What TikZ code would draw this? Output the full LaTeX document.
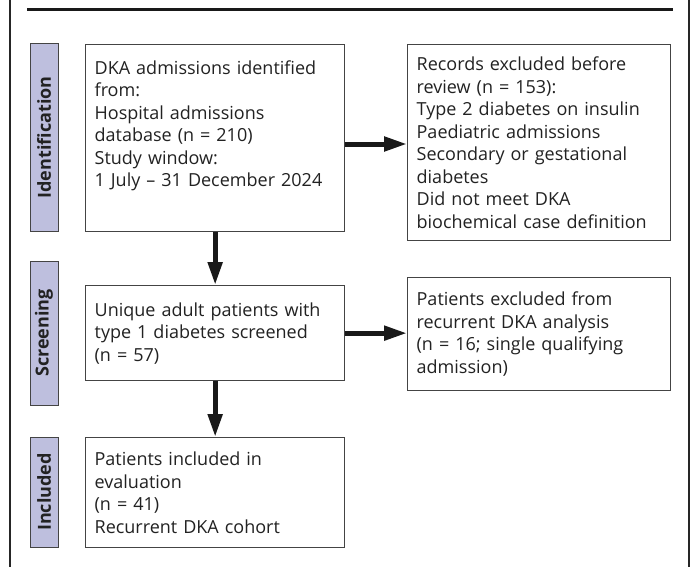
\documentclass[tikz,border=0pt]{standalone}
\usepackage{fontspec}
\setmainfont{Open Sans}
\usetikzlibrary{arrows.meta}
\definecolor{barfill}{RGB}{190,191,222}
\definecolor{txt}{RGB}{34,34,34}
\definecolor{edge}{RGB}{68,68,68}
\begin{document}
\begin{tikzpicture}[x=1pt,y=-1pt,
  boxstyle/.style={draw=edge, line width=1.3pt, fill=white, align=left, text=txt,
    inner xsep=9pt, inner ysep=0pt, font=\fontsize{18}{22.5}\selectfont, anchor=north west},
  barstyle/.style={draw=edge, line width=1pt, fill=barfill, inner sep=0pt, rotate=90,
    minimum height=28pt, text=txt, font=\fontsize{18}{22}\selectfont\bfseries},
  flow/.style={line width=5pt, draw=black!90, -{Triangle[length=23pt,width=14pt]}},
  framestyle/.style={line width=1.2pt, draw=black!85}]
\useasboundingbox (0,0) rectangle (692,567);
% frame
\draw[framestyle] (10,0) -- (10,567);
\draw[framestyle] (689,0) -- (689,567);
\draw[line width=3pt, draw=black!90] (27,9.5) -- (673,9.5);
% stage bars
\node[barstyle, minimum width=187pt] (idbar) at (44,137.5) {Identification};
\node[barstyle, minimum width=144pt] (scbar) at (44,333) {Screening};
\node[barstyle, minimum width=110pt] (inbar) at (44,492) {Included};
% boxes
\node[boxstyle, text width=241pt, minimum width=259pt, minimum height=187pt] (B1) at (85,44)
  {DKA admissions identified\\ from:\\ Hospital admissions\\ database (n = 210)\\ Study window:\\ 1 July – 31 December 2024\\ \strut};
\node[boxstyle, text width=241pt, minimum width=259pt, minimum height=95pt] (B2) at (85,285)
  {Unique adult patients with\\ type 1 diabetes screened\\ (n = 57)};
\node[boxstyle, text width=241pt, minimum width=259pt, minimum height=110pt] (B3) at (85,437)
  {Patients included in\\ evaluation\\ (n = 41)\\ Recurrent DKA cohort};
\node[boxstyle, text width=245pt, minimum width=263pt, minimum height=196pt] (R1) at (407,44)
  {Records excluded before\\ review (n = 153):\\ Type 2 diabetes on insulin\\ Paediatric admissions\\ Secondary or gestational\\ diabetes\\ Did not meet DKA\\ biochemical case definition};
\node[boxstyle, text width=245pt, minimum width=263pt, minimum height=113pt] (R2) at (407,277)
  {Patients excluded from\\ recurrent DKA analysis\\ (n = 16; single qualifying\\ admission)};
% connectors
\draw[flow] (B1.east |- 0,144) -- (R1.west |- 0,144);
\draw[flow] (B1.south) -- (B2.north);
\draw[flow] (B2.east) -- (B2.east -| R2.west);
\draw[flow] (B2.south) -- (B3.north);
\end{tikzpicture}
\end{document}
